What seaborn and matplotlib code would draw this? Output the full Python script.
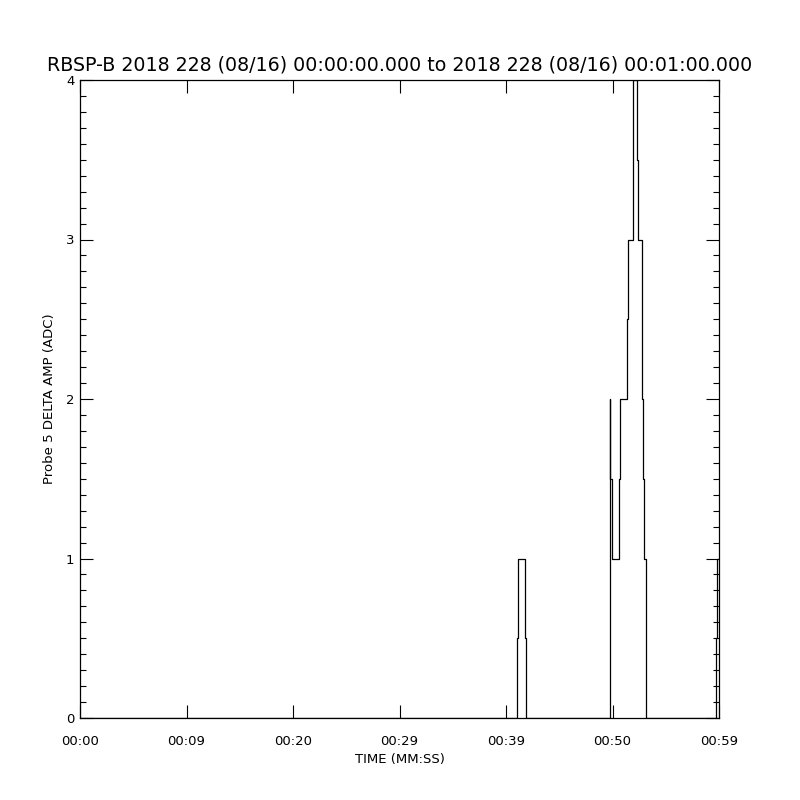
import numpy as np
import pandas as pd
import matplotlib
matplotlib.use('Agg')
import matplotlib.pyplot as plt
import seaborn as sns
from matplotlib.ticker import MultipleLocator

sns.set_style('white')
plt.rcParams['font.family'] = ['DejaVu Sans']
plt.rcParams['text.color'] = 'black'
plt.rcParams['axes.labelcolor'] = 'black'
plt.rcParams['xtick.color'] = 'black'
plt.rcParams['ytick.color'] = 'black'

# step series: time (s) where the value changes, and the value from that time on
t_sec = [0.0, 41.07, 41.16, 41.75, 41.88,
         49.72, 49.78, 49.81, 49.91, 50.62, 50.72, 51.35, 51.47, 51.94, 51.97,
         52.26, 52.38, 52.73, 52.80, 52.88, 52.99, 53.16, 53.19,
         59.72, 59.81, 60.0]
amp = [0.0, 0.5, 1.0, 0.5, 0.0,
       0.5, 2.0, 1.5, 1.0, 1.5, 2.0, 2.5, 3.0, 3.5, 4.0,
       3.5, 3.0, 2.5, 2.0, 1.5, 1.0, 0.5, 0.0,
       0.5, 1.0, 1.0]
xtick_labels = ['00:00', '00:09', '00:20', '00:29', '00:39', '00:50', '00:59']
ytick_labels = ['0', '1', '2', '3', '4']

df = pd.DataFrame({'t': t_sec, 'amp': amp})

fig = plt.figure(figsize=(8, 8), dpi=100)
ax = fig.add_axes([0.1, 0.1025, 0.79875, 0.7975])

sns.lineplot(data=df, x='t', y='amp', ax=ax, drawstyle='steps-post',
             estimator=None, sort=False, color='black', linewidth=0.9)

ax.set_xlim(0, 60)
ax.set_ylim(0, 4)
ax.set_xticks(np.linspace(0, 60, len(xtick_labels)))
ax.set_xticklabels(xtick_labels)
ax.set_yticks(range(len(ytick_labels)))
ax.set_yticklabels(ytick_labels)
ax.yaxis.set_minor_locator(MultipleLocator(0.1))

ax.tick_params(axis='x', which='major', direction='in', length=9.5, width=0.8,
               top=True, bottom=True, pad=12, labelsize=9.5)
ax.tick_params(axis='y', which='major', direction='in', length=9.5, width=0.8,
               left=True, right=True, pad=4, labelsize=9.5)
ax.tick_params(axis='y', which='minor', direction='in', length=4.5, width=0.8,
               left=True, right=True)
for s in ax.spines.values():
    s.set_linewidth(0.9)
    s.set_color('black')

ax.set_xlabel('TIME (MM:SS)', fontsize=9.5, labelpad=4)
ax.set_ylabel('Probe 5 DELTA AMP (ADC)', fontsize=9.5, labelpad=7)
ax.set_title('RBSP-B 2018 228 (08/16) 00:00:00.000 to 2018 228 (08/16) 00:01:00.000',
             fontsize=13.7, pad=7)

fig.savefig('out.png', dpi=100)
